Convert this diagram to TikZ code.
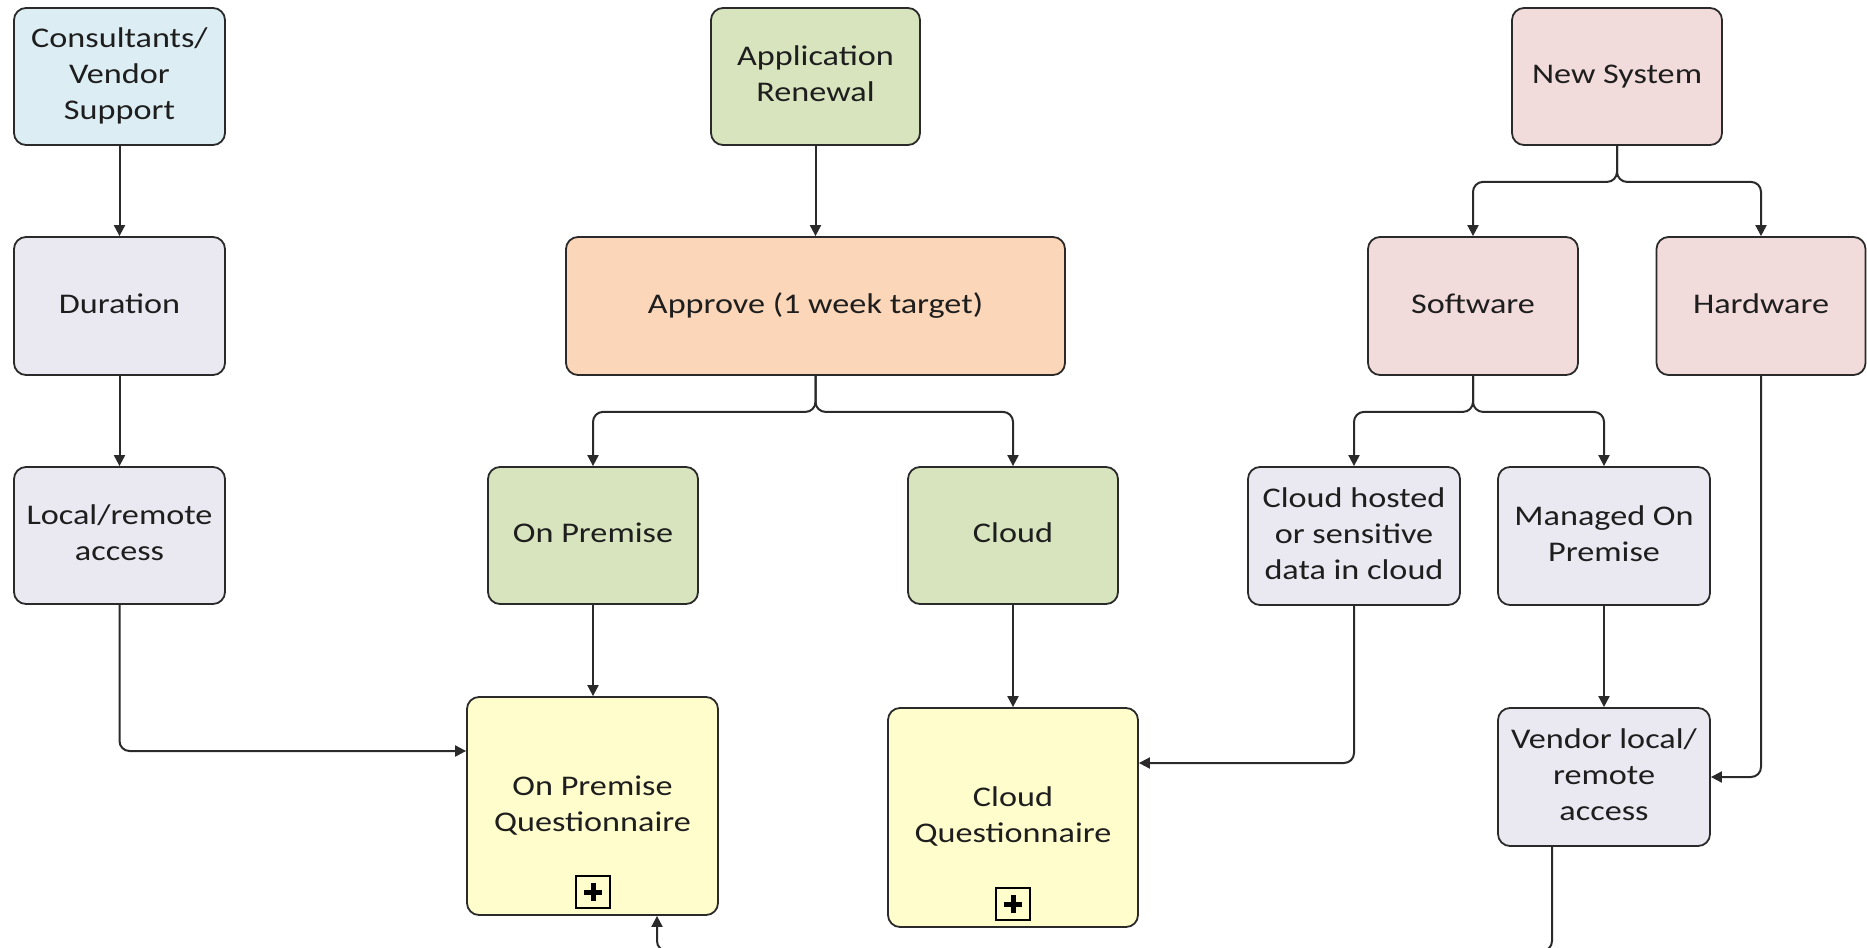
\documentclass[tikz,border=0pt]{standalone}
\usepackage{fontspec}
\setmainfont{Carlito}
\usepackage{graphicx}
\usetikzlibrary{arrows.meta}
\definecolor{cblue}{HTML}{DCEEF4}
\definecolor{cgrey}{HTML}{EAE8F0}
\definecolor{cgreen}{HTML}{D7E4BD}
\definecolor{cpeach}{HTML}{FBD6B8}
\definecolor{cpink}{HTML}{F2DCDB}
\definecolor{cyell}{HTML}{FFFDCC}
\definecolor{ctext}{HTML}{1E1E1E}
\definecolor{cline}{HTML}{2A2A2A}
\newcommand\lbl[1]{\scalebox{1.2}[1]{\begin{tabular}{@{}c@{}}#1\end{tabular}}}
\tikzset{
  box/.style={draw=cline, line width=1.8pt, rounded corners=12pt, inner sep=0pt,
    text=ctext, font=\fontsize{28.5}{36}\selectfont},
  arr/.style={draw=cline, line width=2pt, rounded corners=10pt,
    -{Triangle[length=11pt,width=11pt]}},
  plusbox/.style={draw=black, line width=1.8pt, fill=cyell, minimum width=34pt, minimum height=32pt, inner sep=0pt},
  plusbar/.style={line width=5pt, draw=black}
}
\begin{document}
\begin{tikzpicture}[x=1pt,y=-1pt]
\useasboundingbox (0,0) rectangle (1867,947);
\clip (0,0) rectangle (1867,947);
\fill[white] (0,0) rectangle (1867,947);
% nodes
\node[box, fill=cblue, minimum width=211pt, minimum height=137pt] (cons) at (119.5,76.5) {\lbl{Consultants/\\Vendor\\Support}};
\node[box, fill=cgrey, minimum width=211pt, minimum height=138pt] (dur) at (119.5,306) {\lbl{Duration}};
\node[box, fill=cgrey, minimum width=211pt, minimum height=137pt] (loc) at (119.5,535.5) {\lbl{Local/remote\\access}};
\node[box, fill=cgreen, minimum width=209pt, minimum height=137pt] (app) at (815.5,76.5) {\lbl{Application\\Renewal}};
\node[box, fill=cpeach, minimum width=499pt, minimum height=138pt] (appr) at (815.5,306) {\lbl{Approve (1 week target)}};
\node[box, fill=cgreen, minimum width=210pt, minimum height=137pt] (onp) at (593,535.5) {\lbl{On Premise}};
\node[box, fill=cgreen, minimum width=210pt, minimum height=137pt] (cld) at (1013,535.5) {\lbl{Cloud}};
\node[box, fill=cyell, minimum width=251pt, minimum height=218pt] (opq) at (592.5,806) {\lbl{On Premise\\Questionnaire}};
\node[box, fill=cyell, minimum width=250pt, minimum height=219pt] (cq) at (1013,817.5) {\lbl{Cloud\\Questionnaire}};
\node[box, fill=cpink, minimum width=210pt, minimum height=137pt] (news) at (1617,76.5) {\lbl{New System}};
\node[box, fill=cpink, minimum width=210pt, minimum height=138pt] (sw) at (1473,306) {\lbl{Software}};
\node[box, fill=cpink, minimum width=209pt, minimum height=138pt] (hw) at (1761,306) {\lbl{Hardware}};
\node[box, fill=cgrey, minimum width=212pt, minimum height=138pt] (ch) at (1354,536) {\lbl{Cloud hosted\\or sensitive\\data in cloud}};
\node[box, fill=cgrey, minimum width=212pt, minimum height=138pt] (mop) at (1604,536) {\lbl{Managed On\\Premise}};
\node[box, fill=cgrey, minimum width=212pt, minimum height=138pt] (vend) at (1604,777) {\lbl{Vendor local/\\remote\\access}};
% plus markers
\node[plusbox] (p1) at (593,892) {};
\draw[plusbar] ([xshift=-9pt]p1.center) -- ([xshift=9pt]p1.center);
\draw[plusbar] ([yshift=-9pt]p1.center) -- ([yshift=9pt]p1.center);
\node[plusbox] (p2) at (1013,904) {};
\draw[plusbar] ([xshift=-9pt]p2.center) -- ([xshift=9pt]p2.center);
\draw[plusbar] ([yshift=-9pt]p2.center) -- ([yshift=9pt]p2.center);
% helper coordinates
\coordinate (j1) at (0,751);
\coordinate (j2) at (0,763);
\coordinate (v1) at (1552,951);
\coordinate (q1) at (657,951);
% connectors
\draw[arr] (cons.south) -- (dur.north);
\draw[arr] (dur.south) -- (loc.north);
\draw[arr] (loc.south) |- (opq.west |- j1);
\draw[arr] (app.south) -- (appr.north);
\draw[arr] (appr.south) -- ++(0,36) -| (onp.north);
\draw[arr] (appr.south) -- ++(0,36) -| (cld.north);
\draw[arr] (onp.south) -- (onp.south |- opq.north);
\draw[arr] (cld.south) -- (cld.south |- cq.north);
\draw[arr] (ch.south) |- (cq.east |- j2);
\draw[arr] (news.south) -- ++(0,36) -| (sw.north);
\draw[arr] (news.south) -- ++(0,36) -| (hw.north);
\draw[arr] (sw.south) -- ++(0,36) -| (ch.north);
\draw[arr] (sw.south) -- ++(0,36) -| (mop.north);
\draw[arr] (mop.south) -- (vend.north);
\draw[arr] (hw.south) |- (vend.east);
\draw[arr] (vend.south -| v1) -- (v1) -- (q1) -- (opq.south -| q1);
\end{tikzpicture}
\end{document}
